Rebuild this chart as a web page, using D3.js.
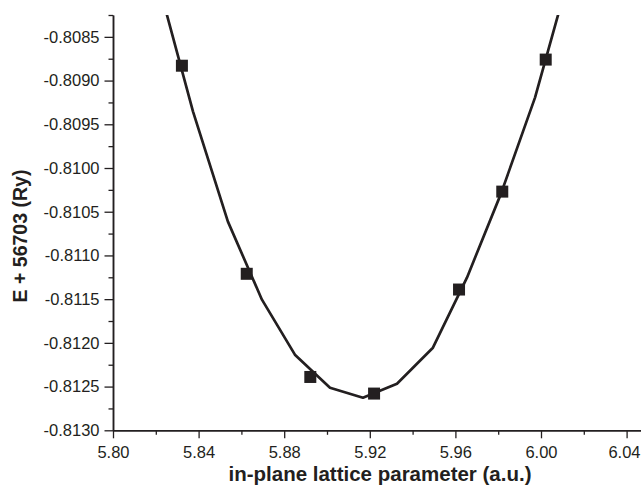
<!DOCTYPE html>
<html>
<head>
<meta charset="utf-8">
<script src="https://cdn.jsdelivr.net/npm/d3@7"></script>
<style>
  html, body { margin: 0; padding: 0; background: #fff; }
  svg { display: block; }
</style>
</head>
<body>
<svg id="chart" width="641" height="486"></svg>
<script>
// ---- data ----
const latticeA = [5.8322, 5.8625, 5.8922, 5.9220, 5.9617, 5.9819, 6.0022];
const energy   = [-0.80883, -0.81121, -0.81239, -0.81258, -0.81139, -0.81027, -0.80876];

const fitA = [5.8215, 5.8374, 5.8537, 5.8696, 5.8850, 5.9014, 5.9168, 5.9327, 5.9495, 5.9654, 5.9813, 5.9972, 6.0131];
const fitE = [-0.807913, -0.809355, -0.810613, -0.811506, -0.812135, -0.812513, -0.812627, -0.812467, -0.812055, -0.811254, -0.810293, -0.809195, -0.807799];

const xTicks = [5.80, 5.84, 5.88, 5.92, 5.96, 6.00, 6.04];
const xMinorTicks = [5.82, 5.86, 5.90, 5.94, 5.98, 6.02];
const yTicks = [-0.8130, -0.8125, -0.8120, -0.8115, -0.8110, -0.8105, -0.8100, -0.8095, -0.8090, -0.8085];
const yMinorTicks = [-0.81275, -0.81225, -0.81175, -0.81125, -0.81075, -0.81025, -0.80975, -0.80925, -0.80875, -0.80825];

const xTitle = "in-plane lattice parameter (a.u.)";
const yTitle = "E + 56703 (Ry)";

// ---- layout ----
const ink = "#231f20";
const plotL = 113, plotR = 641, plotT = 15, plotB = 430.3;

const svg = d3.select("#chart");
const x = d3.scaleLinear().domain([5.80, 5.80 + (plotR - plotL) / 2140]).range([plotL, plotR]);
const y = d3.scaleLinear().domain([-0.8130, -0.80825]).range([plotB, plotT]);

const font = "'Liberation Sans', Arial, Helvetica, sans-serif";

// clip
svg.append("defs").append("clipPath").attr("id", "plotclip")
  .append("rect").attr("x", plotL).attr("y", plotT).attr("width", plotR - plotL).attr("height", plotB - plotT);

// x axis
const xAxis = svg.append("g").attr("transform", `translate(0,${plotB})`)
  .call(d3.axisBottom(x).tickValues(xTicks).tickFormat(d3.format(".2f")).tickSize(8).tickSizeOuter(0).tickPadding(4));
const xMinor = svg.append("g").attr("transform", `translate(0,${plotB})`)
  .call(d3.axisBottom(x).tickValues(xMinorTicks).tickFormat("").tickSize(4.5).tickSizeOuter(0));

// y axis
const yAxis = svg.append("g").attr("transform", `translate(${plotL},0)`)
  .call(d3.axisLeft(y).tickValues(yTicks).tickFormat(d3.format(".4f")).tickSize(8.5).tickSizeOuter(0).tickPadding(5));
const yMinor = svg.append("g").attr("transform", `translate(${plotL},0)`)
  .call(d3.axisLeft(y).tickValues(yMinorTicks).tickFormat("").tickSize(4.5).tickSizeOuter(0));

[xAxis, xMinor, yAxis, yMinor].forEach(g => {
  g.select(".domain").attr("stroke", ink).attr("stroke-width", 1.5);
  g.selectAll(".tick line").attr("stroke", ink).attr("stroke-width", 1.3);
  g.selectAll(".tick text").attr("fill", ink).style("font-family", font).style("font-size", "16.5px");
});
yAxis.selectAll(".tick text").text(d => d3.format(".4f")(d).replace("−", "-"));
xAxis.selectAll(".tick text").attr("dy", "0.95em");
// keep the last x label inside the page
xAxis.selectAll(".tick text").filter(d => d === xTicks[xTicks.length - 1])
  .attr("text-anchor", "end").attr("x", plotR - 1 - x(xTicks[xTicks.length - 1]));

// titles
svg.append("text")
  .attr("x", 380).attr("y", 481)
  .attr("text-anchor", "middle")
  .style("font-family", font).style("font-size", "20.5px").style("font-weight", "bold")
  .attr("fill", ink)
  .text(xTitle);

svg.append("text")
  .attr("transform", "translate(27,236) rotate(-90)")
  .attr("text-anchor", "middle")
  .style("font-family", font).style("font-size", "19.5px").style("font-weight", "bold")
  .attr("fill", ink)
  .text(yTitle);

// fit curve
const fitData = fitA.map((a, i) => ({ a, e: fitE[i] }));
svg.append("path")
  .datum(fitData)
  .attr("clip-path", "url(#plotclip)")
  .attr("fill", "none")
  .attr("stroke", ink)
  .attr("stroke-width", 2.7)
  .attr("stroke-linejoin", "round")
  .attr("d", d3.line().x(d => x(d.a)).y(d => y(d.e)));

// points
const pts = latticeA.map((a, i) => ({ a, e: energy[i] }));
const s = 12;
svg.append("g").selectAll("rect").data(pts).join("rect")
  .attr("x", d => x(d.a) - s / 2)
  .attr("y", d => y(d.e) - s / 2)
  .attr("width", s).attr("height", s)
  .attr("fill", ink);
</script>
</body>
</html>
